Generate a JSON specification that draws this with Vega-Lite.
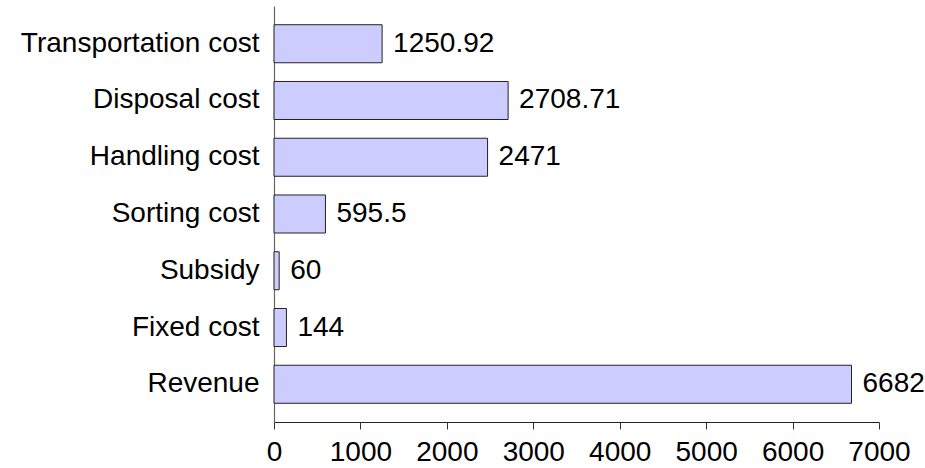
{
  "$schema": "https://vega.github.io/schema/vega-lite/v6.json",
  "autosize": {"type": "none"},
  "padding": {"left": 274, "top": 6, "right": 46, "bottom": 46},
  "width": 605,
  "height": 416,
  "background": "white",
  "config": {"view": {"stroke": null}, "font": "Liberation Sans"},
  "data": {"values": [
    {"item": "Transportation cost", "value": 1250.92},
    {"item": "Disposal cost", "value": 2708.71},
    {"item": "Handling cost", "value": 2471},
    {"item": "Sorting cost", "value": 595.5},
    {"item": "Subsidy", "value": 60},
    {"item": "Fixed cost", "value": 144},
    {"item": "Revenue", "value": 6682}
  ]},
  "encoding": {
    "y": {
      "field": "item", "type": "nominal",
      "sort": ["Transportation cost", "Disposal cost", "Handling cost", "Sorting cost", "Subsidy", "Fixed cost", "Revenue"],
      "scale": {"paddingInner": 0.33, "paddingOuter": 0.33},
      "axis": {"title": null, "ticks": false, "labelFontSize": 28, "labelColor": "black", "labelPadding": 15, "labelLimit": 400, "domainColor": "#666", "domainWidth": 1.2, "labelFont": "Liberation Sans"}
    },
    "x": {
      "field": "value", "type": "quantitative",
      "scale": {"domain": [0, 7000], "nice": false},
      "axis": {"title": null, "values": [0,1000,2000,3000,4000,5000,6000,7000], "grid": false, "tickSize": 7, "tickColor": "#333", "domainColor": "#222", "domainWidth": 1.2, "labelFontSize": 28, "labelColor": "black", "labelPadding": 9, "format": "d", "labelFont": "Liberation Sans", "labelFlush": false}
    }
  },
  "layer": [
    {"mark": {"type": "bar", "fill": "#ccccff", "stroke": "#222", "strokeWidth": 1}},
    {"mark": {"type": "text", "align": "left", "baseline": "middle", "dx": 11, "fontSize": 28, "color": "black"},
     "encoding": {"text": {"field": "value", "type": "nominal"}}}
  ]
}
